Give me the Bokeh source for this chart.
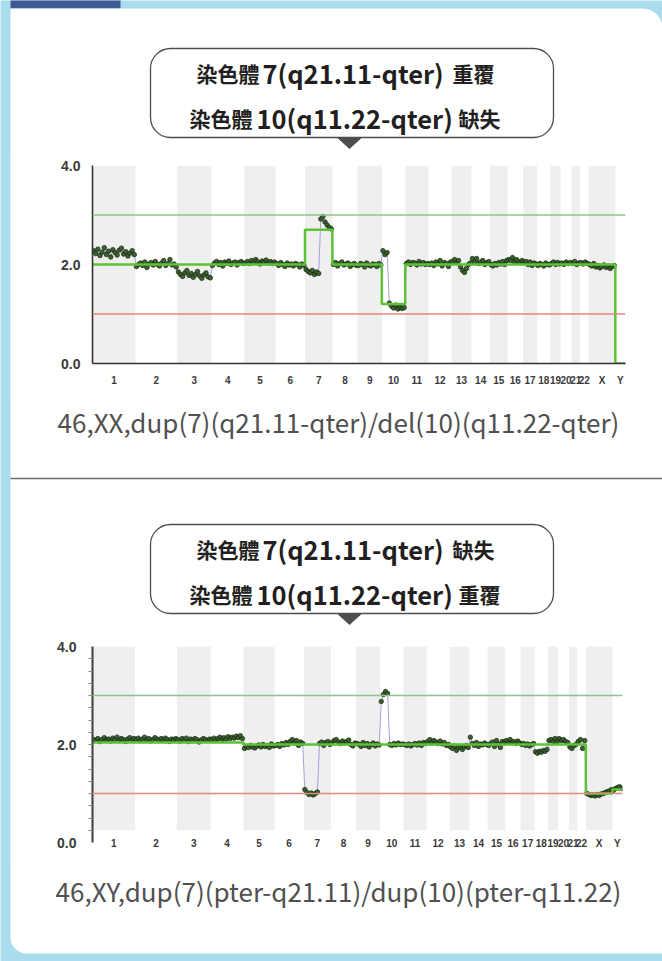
import numpy as np
from bokeh.plotting import figure
from bokeh.models import Range1d, FixedTicker, Span, NumeralTickFormatter, CustomJSTickFormatter
from bokeh.embed import file_html
from bokeh.resources import INLINE
from bokeh.core.properties import value

# ---------------- data ----------------
CHROMOSOMES = ["1", "2", "3", "4", "5", "6", "7", "8", "9", "10", "11", "12", "13", "14",
               "15", "16", "17", "18", "19", "20", "21", "22", "X", "Y"]
CHROM_LENGTH_MB = [249, 243, 198, 191, 181, 171, 159, 146, 141, 136, 135, 134, 115, 107,
                   103, 90, 81, 78, 59, 63, 48, 51, 155, 59]
Y_TICKS = [0, 2, 4]
GAIN_LINE = 3.0
LOSS_LINE = 1.0

# chart 1 : 46,XX
XX_SEGMENT_CN = [2.0, 2.0, 2.0, 2.0, 2.0, 2.0, 2.7, 2.0, 2.0, 1.2, 2.0, 2.0,
                 2.0, 2.0, 2.0, 2.0, 2.0, 2.0, 2.0, 2.0, 2.0, 2.0, 2.0, 0.0]
XX_PROBES = [
    [2.28, 2.22, 2.31, 2.18, 2.25, 2.34, 2.2, 2.27, 2.15, 2.3, 2.24, 2.19, 2.29, 2.33, 2.21, 2.26, 2.17, 2.23, 2.28, 2.2],
    [1.96, 2.0, 2.03, 1.98, 2.05, 1.94, 2.01, 2.04, 1.99, 2.06, 2.0, 1.97, 2.03, 2.08, 1.98, 2.02, 2.1, 1.99, 2.01, 1.95],
    [1.85, 1.8, 1.76, 1.83, 1.88, 1.78, 1.82, 1.74, 1.8, 1.86, 1.77, 1.72, 1.79, 1.83, 1.75, 1.73],
    [1.98, 2.03, 2.06, 2.0, 2.04, 1.97, 2.05, 2.02, 2.07, 2.0, 2.03, 2.05, 1.99, 2.04, 2.06, 2.02],
    [2.03, 2.06, 2.02, 2.08, 2.04, 2.1, 2.05, 2.01, 2.07, 2.04, 2.09, 2.03, 2.06, 2.02, 2.05],
    [2.02, 1.98, 2.04, 2.0, 1.96, 2.03, 1.99, 2.01, 1.97, 2.02, 2.0, 1.95, 2.01, 1.98],
    [1.9, 1.86, 1.83, 1.88, 1.8, 1.85, 1.82, 2.92, 2.97, 2.86, 2.8, 2.75, 2.72],
    [2.0, 2.04, 1.97, 2.02, 2.05, 1.99, 2.01, 2.03, 1.96, 2.0, 2.02, 1.98],
    [1.98, 2.02, 2.0, 1.95, 2.03, 1.99, 1.97, 2.01, 2.0, 1.96, 2.02, 1.99],
    [2.28, 2.2, 2.24, 1.22, 1.16, 1.12, 1.18, 1.1, 1.14, 1.11, 1.13],
    [2.02, 2.05, 2.0, 2.04, 2.03, 1.99, 2.06, 2.01, 2.04, 2.0, 2.02],
    [2.0, 2.03, 1.98, 2.05, 2.01, 2.08, 1.97, 2.04, 2.02, 1.96, 2.05],
    [2.06, 2.1, 2.04, 2.08, 1.95, 1.88, 1.84, 1.92, 2.0, 2.03],
    [2.12, 2.06, 2.12, 2.02, 2.05, 2.08, 2.0, 2.04, 2.06],
    [2.0, 1.97, 2.02, 1.99, 2.04, 2.01, 2.06, 2.0, 2.08],
    [2.1, 2.08, 2.14, 2.05, 2.1, 2.06, 2.03, 2.08],
    [2.04, 2.06, 2.0, 2.05, 1.98, 2.03, 2.01],
    [1.98, 2.02, 2.0, 1.97, 2.03, 2.0, 1.99],
    [2.02, 2.05, 2.0, 2.04, 2.01],
    [2.03, 2.0, 2.05, 2.02, 2.04],
    [2.02, 2.06, 2.0, 2.03],
    [2.04, 2.01, 2.05, 2.02],
    [2.0, 1.97, 2.02, 1.95, 1.98, 1.93, 1.96, 1.99, 1.94, 1.97, 1.92, 1.96, 1.98],
    [],
]

# chart 2 : 46,XY
XY_SEGMENT_CN = [2.04, 2.04, 2.04, 2.04, 2.0, 2.0, 2.0, 2.0, 2.0, 2.0, 2.0, 2.0,
                 2.0, 2.0, 2.0, 2.0, 2.0, 2.0, 2.0, 2.0, 2.0, 2.0, 1.0, 1.08]
XY_PROBES = [
    [2.1, 2.08, 2.12, 2.06, 2.1, 2.14, 2.09, 2.11, 2.07, 2.13, 2.1, 2.15, 2.08, 2.12, 2.1, 2.06, 2.11, 2.14, 2.09, 2.12],
    [2.1, 2.13, 2.08, 2.11, 2.15, 2.09, 2.12, 2.07, 2.1, 2.14, 2.11, 2.08, 2.12, 2.09, 2.13, 2.1, 2.06, 2.11, 2.09, 2.12],
    [2.1, 2.07, 2.12, 2.09, 2.13, 2.06, 2.11, 2.08, 2.12, 2.1, 2.05, 2.09, 2.12, 2.1, 2.08, 2.11],
    [2.1, 2.13, 2.08, 2.12, 2.15, 2.1, 2.14, 2.11, 2.16, 2.12, 2.15, 2.13, 2.17, 2.14, 2.18, 2.12],
    [1.92, 1.96, 1.94, 1.98, 1.95, 1.93, 1.97, 1.99, 1.95, 2.0, 1.96, 1.98, 1.94, 2.01, 1.97],
    [1.98, 2.0, 1.96, 2.02, 1.99, 2.04, 2.0, 2.06, 2.1, 2.03, 2.08, 1.98, 2.05, 2.02],
    [1.08, 1.02, 0.98, 1.01, 0.97, 1.0, 1.03, 2.02, 2.05, 1.98, 2.04, 2.06, 2.0],
    [2.04, 2.08, 2.1, 2.05, 2.02, 2.07, 2.03, 2.06, 2.09, 2.0, 1.97, 2.03],
    [2.02, 2.0, 1.96, 2.04, 1.98, 2.02, 1.95, 2.0, 2.03, 1.97, 2.01, 1.99],
    [2.88, 3.02, 3.08, 3.04, 2.0, 1.98, 2.02, 1.99, 2.03, 2.0, 2.01],
    [2.0, 1.98, 2.01, 1.97, 2.0, 2.02, 1.99, 2.03, 1.98, 2.04, 2.02],
    [2.06, 2.1, 2.03, 2.08, 2.05, 2.02, 2.07, 2.01, 2.04, 1.98, 2.0],
    [1.95, 1.92, 1.97, 1.88, 1.93, 1.96, 1.9, 1.95, 1.98, 1.94],
    [2.15, 2.02, 1.98, 2.04, 1.96, 2.01, 1.99, 2.03, 2.0],
    [1.98, 2.02, 2.05, 1.96, 2.08, 2.01, 1.94, 2.06, 2.03],
    [2.08, 2.05, 2.1, 2.04, 2.06, 2.02, 2.07, 2.03],
    [2.0, 2.02, 1.98, 2.01, 1.97, 2.0, 2.02],
    [1.85, 1.82, 1.86, 1.84, 1.88, 1.86, 1.9],
    [2.08, 2.1, 2.06, 2.12, 2.05],
    [2.12, 2.08, 2.1, 2.06, 2.04],
    [1.95, 1.92, 1.98, 2.0],
    [2.06, 2.1, 1.92, 2.08],
    [1.0, 0.98, 0.96, 0.97, 0.95, 0.98, 0.96, 0.99, 1.0, 1.02, 1.04, 1.05, 1.08],
    [1.06, 1.1, 1.12, 1.14, 1.1],
]

BUBBLE1_LINES = [("染色體", "7(q21.11-qter)", "重覆"), ("染色體", "10(q11.22-qter)", "缺失")]
BUBBLE2_LINES = [("染色體", "7(q21.11-qter)", "缺失"), ("染色體", "10(q11.22-qter)", "重覆")]
CAPTION1 = "46,XX,dup(7)(q21.11-qter)/del(10)(q11.22-qter)"
CAPTION2 = "46,XY,dup(7)(pter-q21.11)/dup(10)(pter-q11.22)"

# ---------------- style ----------------
BLUE = "#a9dced"
TAB = "#3f5b95"
CJK = "Noto Sans CJK TC"
AXIS_FONT = "Liberation Sans"

ENDS = np.cumsum(CHROM_LENGTH_MB)
STARTS = ENDS - np.array(CHROM_LENGTH_MB)
TOTAL = float(ENDS[-1])
CENTERS = [float(s + l / 2) for s, l in zip(STARTS, CHROM_LENGTH_MB)]


def cnv_chart(levels, probes, height, top, bottom, right, band_bottom, second, page_top):
    p = figure(width=652, height=height, x_range=Range1d(0, TOTAL), y_range=Range1d(0, 4),
               output_backend="svg", toolbar_location=None,
               min_border_left=82, min_border_right=right,
               min_border_top=top, min_border_bottom=bottom)
    p.styles = {"position": "absolute", "left": "10px", "top": f"{page_top}px"}
    p.xgrid.visible = False
    p.ygrid.visible = False
    p.outline_line_color = None
    p.background_fill_color = "white"
    p.border_fill_color = "white"

    band_idx = list(range(0, len(CHROMOSOMES), 2))
    p.quad(left=[float(STARTS[i]) for i in band_idx], right=[float(ENDS[i]) for i in band_idx],
           bottom=band_bottom, top=4, fill_color="#efefef", line_color=None)
    p.add_layout(Span(location=GAIN_LINE, dimension="width", line_color="#8cc48c", line_width=1.3))
    p.add_layout(Span(location=LOSS_LINE, dimension="width", line_color="#e2897e", line_width=1.3))

    xs, ys = [], []
    for s, length, vals in zip(STARTS, CHROM_LENGTH_MB, probes):
        n = len(vals)
        for i, v in enumerate(vals):
            xs.append(float(s) + (i + 0.5) * length / n)
            ys.append(v)
    p.line(xs, ys, line_color="#a79fd9", line_width=1)
    p.scatter(xs, ys, size=4.5, fill_color="#3a6331", line_color="#16220f", line_width=0.7)
    p.step(x=[float(v) for v in STARTS] + [TOTAL], y=list(levels) + [levels[-1]], mode="after",
           line_color="#5dc235", line_width=2.5)

    ya = p.yaxis[0]
    ya.ticker = FixedTicker(ticks=Y_TICKS,
                            minor_ticks=[0.25 * k for k in range(1, 16)] if second else [])
    ya.formatter = NumeralTickFormatter(format="0.0")
    ya.major_tick_line_color = None
    ya.major_tick_out = 0
    ya.major_tick_in = 0
    ya.minor_tick_in = 0
    ya.minor_tick_out = 4 if second else 0
    ya.minor_tick_line_color = "#8a8a8a" if second else None
    ya.axis_line_color = "#4a4a4a" if second else "#333333"
    ya.axis_line_width = 2.2 if second else 1.6
    ya.major_label_text_font = AXIS_FONT
    ya.major_label_text_font_style = "bold"
    ya.major_label_text_font_size = "14px"
    ya.major_label_text_color = "#3a3a3a"
    ya.major_label_standoff = 12

    xa = p.xaxis[0]
    xa.ticker = FixedTicker(ticks=CENTERS, minor_ticks=[])
    xa.formatter = CustomJSTickFormatter(args=dict(names=CHROMOSOMES), code="return names[index]")
    xa.major_tick_line_color = None
    xa.minor_tick_line_color = None
    xa.major_tick_out = 0
    xa.major_tick_in = 0
    xa.minor_tick_out = 0
    xa.axis_line_color = None if second else "#333333"
    xa.axis_line_width = 1.6
    xa.major_label_text_font = AXIS_FONT
    xa.major_label_text_font_style = "bold"
    xa.major_label_text_font_size = "10px"
    xa.major_label_text_color = "#3a3a3a"
    xa.major_label_standoff = -5 if second else 11
    return p


# ---------------- page background (decoration, page pixel coordinates) ----------------
bg = figure(width=662, height=961, x_range=Range1d(0, 662), y_range=Range1d(961, 0),
            output_backend="svg", toolbar_location=None, min_border=0,
            min_border_left=0, min_border_right=0, min_border_top=0, min_border_bottom=0,
            x_axis_type=None, y_axis_type=None)
bg.styles = {"position": "absolute", "left": "0px", "top": "0px"}
bg.outline_line_color = None
bg.background_fill_color = BLUE
bg.border_fill_color = BLUE

bg.quad(left=[10], right=[120], top=[-5], bottom=[8], fill_color=TAB, line_color=None)
bg.quad(left=[10], right=[662], top=[8], bottom=[953], fill_color="white", line_color=None,
        border_radius=(0, 20, 0, 16))


def bubble(p, top, lines):
    p.quad(left=[150], right=[553], top=[top], bottom=[top + 89], fill_color="white",
           line_color="#4d4d4d", line_width=1.3, border_radius=20)
    p.patch([337, 361, 349], [top + 89, top + 89, top + 100], fill_color="#4d4d4d",
            line_color="#4d4d4d")
    anchors = [(196, 262, 452), (189, 256, 458)]
    for (c1, lat, c2), mid_y, (x1, x2, x3) in zip(lines, [top + 24, top + 69], anchors):
        p.text(x=[x1, x3], y=[mid_y, mid_y], text=[c1, c2], text_font=value(CJK),
               text_font_size="21px", text_font_style="bold", text_color="#231f20",
               text_baseline="middle", text_align="left")
        p.text(x=[x2], y=[mid_y], text=[lat], text_font=value(CJK),
               text_font_size="25.5px", text_font_style="bold", text_color="#231f20",
               text_baseline="middle", text_align="left")


bubble(bg, 48, BUBBLE1_LINES)
bg.text(x=[338], y=[421], text=[CAPTION1], text_font=value(CJK), text_font_size="26px",
        text_color="#505050", text_align="center", text_baseline="middle")
bg.segment(x0=[10], y0=[478], x1=[662], y1=[478], line_color="#6a6a6a", line_width=1.5)
bubble(bg, 524, BUBBLE2_LINES)
bg.text(x=[338], y=[890], text=[CAPTION2], text_font=value(CJK), text_font_size="26px",
        text_color="#505050", text_align="center", text_baseline="middle")

chart1 = cnv_chart(XX_SEGMENT_CN, XX_PROBES, 250, 15, 37, 37, 0.0, False, 150)
chart2 = cnv_chart(XY_SEGMENT_CN, XY_PROBES, 234, 10, 28, 40, 0.25, True, 636)

open("out.html", "w").write(file_html([bg, chart1, chart2], INLINE))
